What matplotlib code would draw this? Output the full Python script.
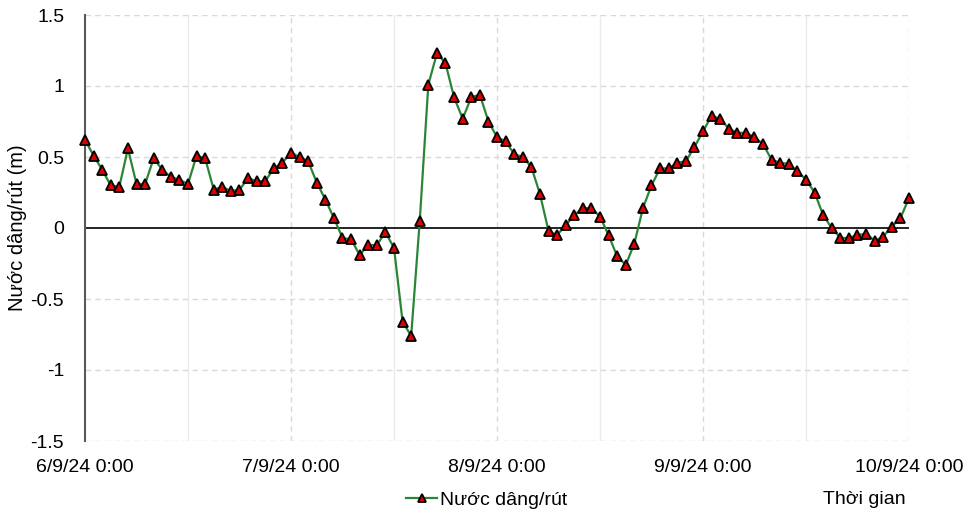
import matplotlib
matplotlib.use("Agg")
import matplotlib.pyplot as plt
import numpy as np

plt.rcParams['font.family'] = ['Liberation Sans', 'DejaVu Sans']

# Hourly water level surge (m), 6/9/24 0:00 -> 10/9/24 0:00
values = [0.62, 0.51, 0.41, 0.30, 0.29, 0.56, 0.31, 0.31, 0.49, 0.41, 0.36, 0.34,
          0.31, 0.51, 0.49, 0.27, 0.29, 0.26, 0.27, 0.35, 0.33, 0.33, 0.42, 0.46,
          0.53, 0.50, 0.47, 0.32, 0.20, 0.07, -0.07, -0.08, -0.19, -0.12, -0.12, -0.03,
          -0.14, -0.66, -0.76, 0.05, 1.01, 1.23, 1.16, 0.92, 0.77, 0.92, 0.94, 0.75,
          0.64, 0.61, 0.52, 0.50, 0.43, 0.24, -0.02, -0.05, 0.02, 0.09, 0.14, 0.14,
          0.08, -0.05, -0.20, -0.26, -0.11, 0.14, 0.30, 0.42, 0.42, 0.46, 0.47, 0.57,
          0.68, 0.79, 0.77, 0.70, 0.67, 0.67, 0.64, 0.59, 0.48, 0.46, 0.45, 0.40,
          0.34, 0.25, 0.09, 0.00, -0.07, -0.07, -0.05, -0.04, -0.09, -0.06, 0.01, 0.07,
          0.21]
hours = list(range(len(values)))
tick_hours = [0, 24, 48, 72, 96]
tick_labels = ["6/9/24 0:00", "7/9/24 0:00", "8/9/24 0:00", "9/9/24 0:00", "10/9/24 0:00"]
minor_hours = [12, 36, 60, 84]
y_ticks = [-1.5, -1, -0.5, 0, 0.5, 1, 1.5]
y_labels = ["-1.5", "-1", "-0.5", "0", "0.5", "1", "1.5"]

fig = plt.figure(figsize=(9.64, 5.18), dpi=100)
ax = fig.add_axes([85/964, 77/518, 824/964, 426/518])

ax.set_xlim(0, 96)
ax.set_ylim(-1.5, 1.5)

# grid
for h in minor_hours:
    ax.axvline(h, color='#ebebeb', lw=1.0, zorder=0)
for h in tick_hours[1:]:
    ax.axvline(h, color='#d9d9d9', lw=1.0, ls=(0, (4, 3)), zorder=0)
for yv in y_ticks:
    if yv != 0:
        ax.axhline(yv, color='#d9d9d9', lw=1.0, ls=(0, (4, 3)), zorder=0)
ax.axhline(0, color='black', lw=1.2, zorder=1)

for s in ['top', 'right', 'bottom']:
    ax.spines[s].set_visible(False)
ax.spines['left'].set_color('#595959')
ax.spines['left'].set_linewidth(1.5)

ax.plot(hours, values, color='#2a8536', lw=1.6, marker='^', markersize=7.5,
        markerfacecolor='#e00000', markeredgecolor='black', markeredgewidth=1.3,
        label='Nước dâng/rút', zorder=3, clip_on=False)

ax.set_xticks(tick_hours)
ax.set_xticklabels(tick_labels)
ax.set_yticks(y_ticks)
ax.set_yticklabels(y_labels)
ax.tick_params(axis='both', length=0, labelsize=14, colors='black')
ax.tick_params(axis='x', pad=13)
ax.tick_params(axis='y', pad=15)

ax.set_ylabel('Nước dâng/rút (m)', fontsize=14.5, labelpad=3)
ax.yaxis.set_label_coords(-0.07, 0.5)

leg = fig.legend(loc='center', bbox_to_anchor=(487/964, 1 - 500/518), frameon=False,
                 fontsize=14, handlelength=1.6, handletextpad=0.15, markerscale=0.85)
fig.text(823/964, 1 - 500/518, 'Thời gian', fontsize=14, ha='left', va='center')

fig.savefig('out.png', dpi=100)
